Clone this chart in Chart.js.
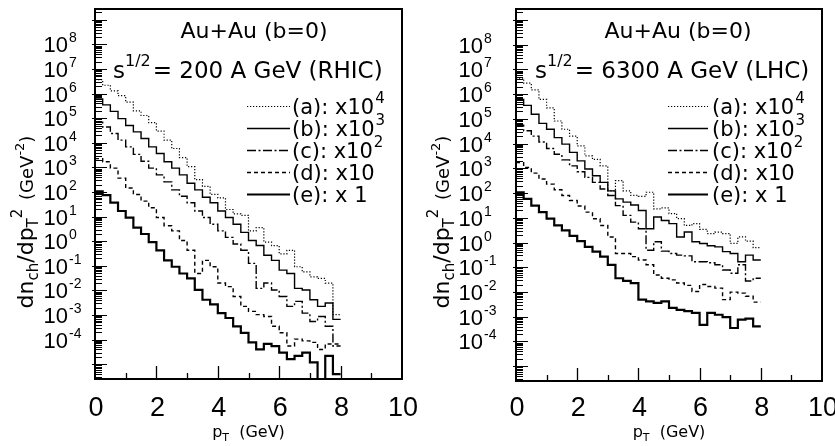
<!DOCTYPE html>
<html>
<head>
<meta charset="utf-8">
<script src="https://cdn.jsdelivr.net/npm/chart.js"></script>
<style>
  html, body { margin: 0; padding: 0; background: #fff; }
  #wrap { position: relative; width: 835px; height: 446px; overflow: hidden; }
  #wrap canvas { position: absolute; top: 0; }
  #rhic { left: 0; }
  #lhc { left: 417px; }
</style>
</head>
<body>
<div id="wrap">
  <canvas id="rhic" width="417" height="446"></canvas>
  <canvas id="lhc" width="418" height="446"></canvas>
</div>
<script>
// bin edges in pT (GeV), 0.25 GeV bins
const ptEdges = [0, 0.25, 0.5, 0.75, 1, 1.25, 1.5, 1.75, 2, 2.25, 2.5, 2.75, 3, 3.25, 3.5, 3.75,
  4, 4.25, 4.5, 4.75, 5, 5.25, 5.5, 5.75, 6, 6.25, 6.5, 6.75, 7, 7.25, 7.5, 7.75, 8];

// RHIC, sqrt(s) = 200 A GeV (already multiplied by the legend factors)
const rhicA = [3.7e6, 2.2e6, 1.3e6, 8.3e5, 4.5e5, 2.0e5, 1.3e5, 6.6e4, 3.0e4, 1.3e4, 5.9e3, 2.5e3, 1.08e3, 3.2e2, 1.7e2, 80,
  58, 19.6, 13, 11.4, 2.65, 3.6, 0.92, 0.67, 0.31, 0.43, 0.092, 0.057, 0.036, 0.031, 0.020, 0.00104];
const rhicB = [6.1e5, 3.5e5, 1.9e5, 9.7e4, 5.1e4, 2.8e4, 1.5e4, 6.9e3, 3.7e3, 1.7e3, 9.4e2, 5.0e2, 2.3e2, 1.23e2, 62, 37,
  17, 9.2, 4.9, 2.3, 1.08, 0.67, 0.27, 0.167, 0.067, 0.049, 0.0122, 0.0105, 0.0042, 0.00226, 0.0031, 0.00067];
const rhicC = [7.0e4, 4.4e4, 2.4e4, 1.3e4, 6.9e3, 3.4e3, 1.8e3, 9.4e2, 5.0e2, 2.6e2, 1.23e2, 68, 37, 17, 9.2, 4.9,
  2.65, 1.44, 0.78, 0.43, 0.126, 0.0122, 0.020, 0.0105, 0.0057, 0.00226, 0.0036, 0.0012, 0.00055, 0.00088, 0.00035, 5.5e-5];
const rhicD = [2.3e3, 1.7e3, 9.4e2, 3.7e2, 1.47e2, 80, 43, 23, 9.2, 4.3, 2.65, 1.08, 0.43, 0.049, 0.167, 0.092,
  0.020, 0.0144, 0.0057, 0.00226, 0.00142, 0.00104, 0.00088, 0.00035, 0.00019, 5.5e-5, 1.05e-4, 8.9e-5, 7.8e-5, 4.0e-5, 6.7e-5, 6.7e-5];
const rhicE = [1.08e2, 75, 37, 17, 9.2, 3.6, 1.98, 0.92, 0.43, 0.167, 0.092, 0.049, 0.031, 0.0105, 0.0042, 0.0027,
  0.0012, 0.00076, 0.00035, 0.00019, 7.8e-5, 4.0e-5, 6.7e-5, 5.5e-5, 3.0e-5, 1.63e-5, 2.2e-5, 3.0e-5, 1.19e-5, 1e-6, 2.2e-5, 4e-6];

// LHC, sqrt(s) = 6300 A GeV
const lhcA = [4.4e6, 2.8e6, 1.5e6, 6.1e5, 2.8e5, 8.2e4, 3.8e4, 2.0e4, 8.1e3, 3.2e3, 2.3e3, 1.26e3, 1.23e2, 3.2e2, 1.23e2, 80,
  73, 1.08e2, 23, 25, 14.8, 9.2, 4.9, 5.8, 3.4, 2.3, 2.65, 2.3, 0.92, 1.68, 1.13, 0.62];
const lhcB = [6.1e5, 3.5e5, 1.54e5, 6.6e4, 3.8e4, 1.75e4, 9.5e3, 4.4e3, 2.0e3, 9.4e2, 5.0e2, 2.7e2, 1.23e2, 58, 43, 33,
  19.6, 3.6, 10.7, 7.8, 5.8, 1.68, 2.65, 1.08, 0.92, 0.74, 0.67, 0.43, 0.36, 0.167, 0.31, 0.197];
const lhcC = [5.5e4, 3.3e4, 2.0e4, 1.16e4, 6.3e3, 3.7e3, 2.2e3, 1.26e3, 7.3e2, 4.3e2, 2.7e2, 1.47e2, 80, 31, 12.5, 6.7,
  3.6, 0.49, 1.08, 0.45, 0.36, 0.31, 0.29, 0.167, 0.167, 0.153, 0.126, 0.077, 0.057, 0.126, 0.028, 0.036];
const lhcD = [1.7e3, 1.08e3, 6.4e2, 3.7e2, 2.3e2, 1.36e2, 80, 50, 30, 17, 9.2, 4.9, 1.68, 0.36, 0.36, 0.27,
  0.197, 0.126, 0.049, 0.036, 0.031, 0.023, 0.0185, 0.0105, 0.020, 0.0167, 0.0144, 0.0049, 0.0099, 0.0090, 0.0067, 0.0039];
const lhcE = [1.08e2, 58, 31, 17, 9.2, 4.9, 3.1, 1.85, 1.13, 0.67, 0.43, 0.27, 0.126, 0.036, 0.028, 0.023,
  0.0049, 0.0042, 0.0036, 0.0042, 0.00226, 0.0019, 0.00168, 0.00142, 0.00047, 0.00142, 0.0012, 0.00096, 0.00035, 0.00076, 0.00084, 0.00041];

// legend text
const seriesTags = ['(a)', '(b)', '(c)', '(d)', '(e)'];
const scaleText = ['x10', 'x10', 'x10', 'x10', 'x 1'];
const scaleExp = ['4', '3', '2', '', ''];

// axis labels
const yTickExps = [8, 7, 6, 5, 4, 3, 2, 1, 0, -1, -2, -3, -4];
const xTickLabels = [0, 2, 4, 6, 8, 10];

const FONT = '"DejaVu Sans", "Liberation Sans", sans-serif';
const NUM_FONT = '"Liberation Sans", Arial, sans-serif';

// line styles for (a)..(e)
const lineStyles = [
  { dash: [1.2, 1.8], width: 1.2 },
  { dash: [], width: 1.4 },
  { dash: [9, 2.5, 2, 2.5], width: 1.4 },
  { dash: [4, 3], width: 1.4 },
  { dash: [], width: 2.2 }
];

function histPoints(vals) {
  // one point per left bin edge, last edge repeats the last bin
  return ptEdges.map((x, i) => ({ x: x, y: vals[Math.min(i, vals.length - 1)] }));
}

function setFont(ctx, size, family) {
  ctx.font = size + 'px ' + (family || FONT);
}

// draws a run of text pieces with their own sizes and vertical shifts
function drawRich(ctx, parts, x, y, align) {
  let w = 0;
  parts.forEach(p => { setFont(ctx, p.size); w += ctx.measureText(p.t).width + (p.gap || 0); });
  let cx = align === 'center' ? x - w / 2 : (align === 'right' ? x - w : x);
  ctx.textAlign = 'left';
  parts.forEach(p => {
    setFont(ctx, p.size);
    ctx.fillText(p.t, cx, y + (p.dy || 0));
    cx += ctx.measureText(p.t).width + (p.gap || 0);
  });
}

const panelDecor = {
  id: 'panelDecor',
  afterDatasetsDraw(chart, args, o) {
    const ctx = chart.ctx;
    const a = chart.chartArea;
    const xs = chart.scales.x, ys = chart.scales.y;
    ctx.save();
    ctx.fillStyle = '#000';
    ctx.strokeStyle = '#000';
    ctx.setLineDash([]);

    // frame
    ctx.lineWidth = 2;
    ctx.strokeRect(a.left, a.top, a.right - a.left, a.bottom - a.top);

    // log ticks on the left edge
    ctx.lineWidth = 1;
    ctx.beginPath();
    for (let n = -7; n <= 10; n++) {
      for (let m = 1; m <= 9; m++) {
        const v = m * Math.pow(10, n);
        if (v < ys.min || v > ys.max) continue;
        const py = Math.round(ys.getPixelForValue(v)) + 0.5;
        const len = m === 1 ? 12 : 7;
        ctx.moveTo(a.left, py);
        ctx.lineTo(a.left + len, py);
        if (m === 1) { ctx.moveTo(a.left - 3, py); ctx.lineTo(a.left, py); }
      }
    }
    ctx.stroke();

    // pT ticks on the bottom edge
    ctx.lineWidth = 1.3;
    ctx.beginPath();
    for (let t = 1; t < 10; t++) {
      const px = Math.round(xs.getPixelForValue(t)) + 0.5;
      const len = t % 2 === 0 ? 13 : 6;
      ctx.moveTo(px, a.bottom);
      ctx.lineTo(px, a.bottom - len);
    }
    ctx.stroke();

    ctx.textBaseline = 'alphabetic';

    // y tick labels 10^n
    yTickExps.forEach(e => {
      const py = ys.getPixelForValue(Math.pow(10, e));
      const base = py + 8;
      setFont(ctx, 22, NUM_FONT);
      ctx.textAlign = 'right';
      ctx.fillText('10', o.yLabelRight, base);
      setFont(ctx, 14, NUM_FONT);
      ctx.textAlign = 'left';
      ctx.fillText(String(e), o.yLabelRight + 1, base - 10);
    });

    // x tick labels
    setFont(ctx, 27, NUM_FONT);
    ctx.textAlign = 'center';
    xTickLabels.forEach(v => {
      ctx.fillText(String(v), xs.getPixelForValue(v) + 1, 416);
    });

    // x title
    drawRich(ctx, [
      { t: 'p', size: 16 },
      { t: 'T', size: 11, dy: 4 },
      { t: '  (GeV)', size: 16 }
    ], (a.left + a.right) / 2, 437, 'center');

    // y title, rotated
    ctx.save();
    ctx.translate(o.yTitleX, 222);
    ctx.rotate(-Math.PI / 2);
    drawRich(ctx, [
      { t: 'dn', size: 22 },
      { t: 'ch', size: 15, dy: 5 },
      { t: '/dp', size: 22 },
      { t: 'T', size: 15, dy: 5 },
      { t: '2', size: 15, dy: -11, gap: 3 },
      { t: ' (GeV', size: 18 },
      { t: '-2', size: 13, dy: -9 },
      { t: ')', size: 18 }
    ], 0, 7, 'center');
    ctx.restore();

    // panel titles
    setFont(ctx, 22);
    ctx.textAlign = 'center';
    ctx.fillText('Au+Au (b=0)', o.titleX, 38);
    drawRich(ctx, [
      { t: 's', size: 23 },
      { t: '1/2', size: 16, dy: -12, gap: 2 },
      { t: '= ' + o.energy, size: 23 }
    ], o.title2X, 78, 'left');

    // legend
    const rowY = [106, 128, 150, 172, 194];
    chart.data.datasets.forEach((ds, i) => {
      const y = rowY[i];
      ctx.save();
      ctx.lineWidth = ds.borderWidth;
      ctx.setLineDash(ds.borderDash);
      ctx.beginPath();
      ctx.moveTo(o.legX0, y + 0.5);
      ctx.lineTo(o.legX1, y + 0.5);
      ctx.stroke();
      ctx.restore();
      setFont(ctx, 21);
      ctx.textAlign = 'left';
      const label = seriesTags[i] + ': ' + scaleText[i];
      ctx.fillText(label, o.legText, y + 8);
      if (scaleExp[i]) {
        const w = ctx.measureText(label).width;
        setFont(ctx, 15);
        ctx.fillText(scaleExp[i], o.legText + w + 1, y - 3);
      }
    });

    ctx.restore();
  }
};

function buildChart(id, series, padding, decor) {
  const datasets = series.map((vals, i) => ({
    data: histPoints(vals),
    stepped: 'before',
    borderColor: '#000',
    borderWidth: lineStyles[i].width,
    borderDash: lineStyles[i].dash,
    pointRadius: 0,
    fill: false
  }));
  return new Chart(document.getElementById(id), {
    type: 'line',
    data: { datasets: datasets },
    options: {
      responsive: false,
      animation: false,
      layout: { padding: padding },
      scales: {
        x: { type: 'linear', min: 0, max: 10, display: false },
        y: { type: 'logarithmic', min: 2.52e-6, max: 2.77e9, display: false }
      },
      plugins: {
        legend: { display: false },
        tooltip: { enabled: false },
        panelDecor: decor
      }
    },
    plugins: [panelDecor]
  });
}

buildChart('rhic', [rhicA, rhicB, rhicC, rhicD, rhicE],
  { left: 95, right: 15, top: 9, bottom: 67 },
  { energy: '200 A GeV (RHIC)', yLabelRight: 68, yTitleX: 26, titleX: 254, title2X: 113,
    legX0: 247, legX1: 290, legText: 292 });

buildChart('lhc', [lhcA, lhcB, lhcC, lhcD, lhcE],
  { left: 99, right: 13, top: 9, bottom: 65 },
  { energy: '6300 A GeV (LHC)', yLabelRight: 66, yTitleX: 25, titleX: 261, title2X: 118,
    legX0: 251, legX1: 291, legText: 295 });
</script>
</body>
</html>
